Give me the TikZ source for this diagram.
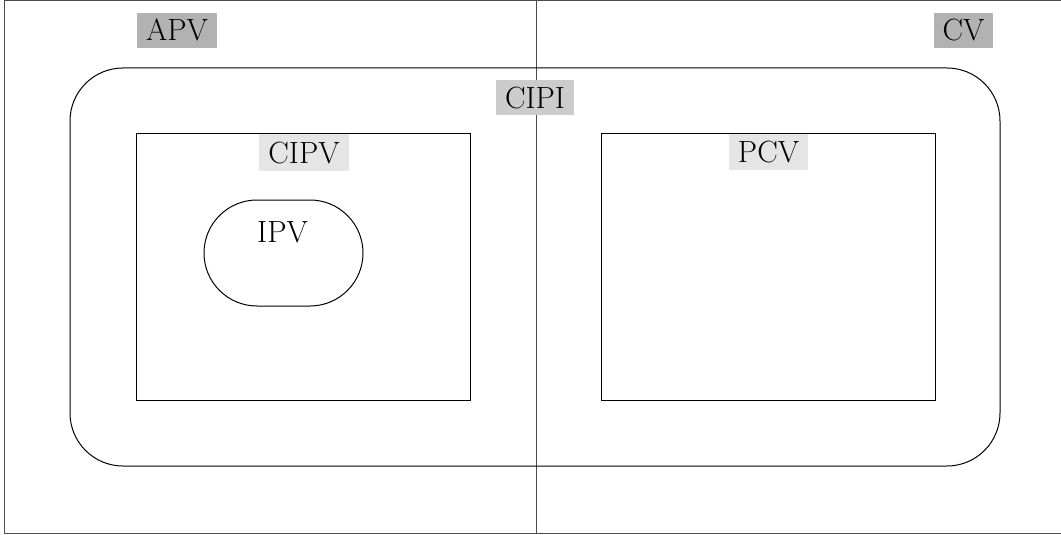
\documentclass[tikz,border=0pt]{standalone}
\begin{document}
\begin{tikzpicture}[x=1pt,y=-1pt,line width=1pt,
  frame/.style={draw,rectangle,inner sep=0pt,outer sep=0pt},
  lbl/.style={inner sep=0pt,outer sep=0pt,font=\fontsize{30.7}{36}\selectfont,text height=21pt,text depth=0pt,anchor=center},
  dark/.style={lbl,fill=black!30},
  mid/.style={lbl,fill=black!20},
  light/.style={lbl,fill=black!10}]
\useasboundingbox (0,0) rectangle (1061,535);
\fill[white] (0,0) rectangle (1061,535);
% outer frame: top, left and bottom sides (its right side lies beyond the picture)
\coordinate (otr) at (1061,1);
\coordinate (otl) at (4,1);
\coordinate (obl) at (4,533);
\coordinate (obr) at (1061,533);
\draw[black!70] (otr) -- (otl) -- (obl) -- (obr);
\coordinate (vtop) at (536,1);
\coordinate (vbot) at (536,533);
\draw[black!70] (vtop) -- (vbot);
% CIPI rounded region
\node[frame,rounded corners=53pt,minimum width=930pt,minimum height=398pt] (cipi) at (535,267) {};
% CIPV and PCV rectangles
\node[frame,minimum width=334pt,minimum height=267pt] (cipv) at (303,266.5) {};
\node[frame,minimum width=334pt,minimum height=267pt] (pcv) at (768,266.5) {};
% IPV stadium
\node[frame,rounded corners=53pt,minimum width=159pt,minimum height=106pt] (ipv) at (283.5,253) {};
% labels
\node[dark,minimum width=80pt,minimum height=35pt] (apvl) at (177,30.5) {APV};
\node[dark,minimum width=59pt,minimum height=35pt] (cvl) at (963.5,30.5) {CV};
\node[mid,minimum width=78pt,minimum height=35pt] (cipil) at (535,97.5) {CIPI};
\node[light,minimum width=90pt,minimum height=37pt] (cipvl) at (304,152.5) {CIPV};
\node[light,minimum width=79pt,minimum height=36pt] (pcvl) at (768.5,152) {PCV};
\node[lbl] (ipvl) at (282.5,232) {IPV};
\end{tikzpicture}
\end{document}
